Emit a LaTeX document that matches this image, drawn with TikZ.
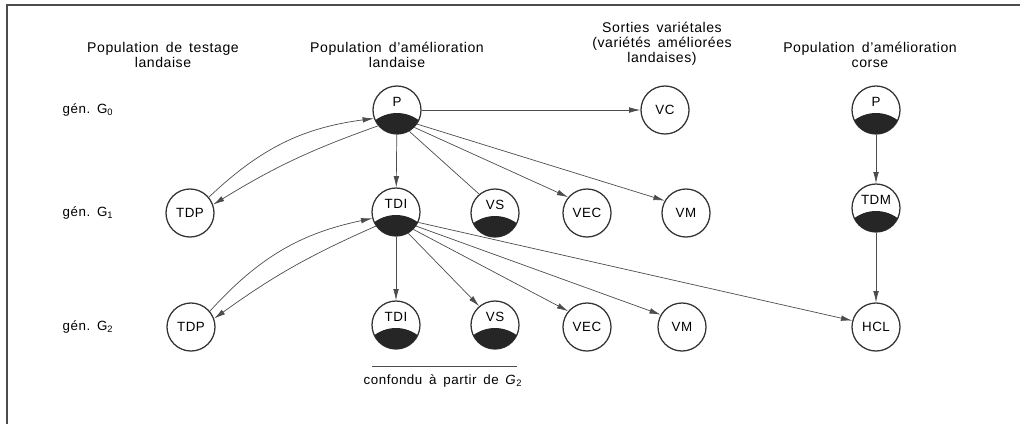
\documentclass[tikz,border=0pt]{standalone}
\usepackage{fontspec}
\setmainfont{Liberation Sans}[LetterSpace=4,WordSpace=1.6]
\usetikzlibrary{arrows.meta}

\tikzset{
  pob/.style={circle,draw=black!80,line width=0.9pt,minimum size=1.2cm,inner sep=0pt,
    font=\fontsize{9.5}{10}\selectfont},
  pobnegra/.style={pob,text height=0.25cm,text depth=0.41cm},
  flecha/.style={draw=black!70,line width=0.5pt,-{Latex[length=8pt,width=4pt]}},
  linea/.style={draw=black!70,line width=0.5pt},
  titulo/.style={align=center,font=\fontsize{10}{10.6}\selectfont},
  gen/.style={font=\fontsize{9.5}{10}\selectfont}
}

%parte negra de abajo del circulo
\newcommand{\mitadnegra}[1]{%
  \begin{scope}
    \clip (#1.center) circle (0.6cm);
    \fill[black!85,shift={(#1.center)}] (-24,12) .. controls (-10,0) and (10,0) .. (24,12)
      -- (24,30) -- (-24,30) -- cycle;
  \end{scope}}

\begin{document}
\begin{tikzpicture}[x=0.025cm,y=-0.025cm]
\useasboundingbox (0,0) rectangle (1023,424);

%marco de la pagina
\draw [black!70,line width=1pt] (7,424) -- (7,5) -- (1020,5);

%titulos de las columnas
\node[titulo] (tit1) at (163,55) {Population de testage\\landaise};
\node[titulo] (tit2) at (397,55) {Population d'amélioration\\landaise};
\node[titulo] (tit3) at (662,44) {Sorties variétales\\(variétés améliorées\\landaises)};
\node[titulo] (tit4) at (870,55) {Population d'amélioration\\corse};

%generaciones
\foreach \g/\y in {0/110,1/213,2/327}
	\node[gen] (gen\g) at (88,\y) {gén.\ G\textsubscript{\g}};

%generacion G0
\node[pobnegra] (P0) at (397,110) {P};
\node[pob] (VC) at (665,110) {VC};
\node[pobnegra] (Pc) at (876,110) {P};

%generacion G1
\node[pob] (TDP1) at (190,213) {TDP};
\node[pobnegra] (TDI1) at (396,212) {TDI};
\node[pobnegra] (VS1) at (495,213) {VS};
\node[pob] (VEC1) at (587,213) {VEC};
\node[pob] (VM1) at (686,213) {VM};
\node[pobnegra] (TDM) at (876,208) {TDM};

%generacion G2
\node[pob] (TDP2) at (191,327) {TDP};
\node[pobnegra] (TDI2) at (396,325) {TDI};
\node[pobnegra] (VS2) at (495,325) {VS};
\node[pob] (VEC2) at (587,327) {VEC};
\node[pob] (VM2) at (682,327) {VM};
\node[pob] (HCL) at (876,327) {HCL};

\foreach \n in {P0,Pc,TDI1,VS1,TDM,TDI2,VS2}
	\mitadnegra{\n};

%flechas desde P
\draw[flecha] (P0) -- (VC);
\draw[flecha] (P0) -- (TDI1);
\draw[linea] (P0.300) -- (VS1.130);
\draw[flecha] (P0.315) -- (VEC1.140);
\draw[flecha] (P0.325) -- (VM1.150);
\draw[flecha] (TDP1.40) to[bend left=18] (P0.200);
\draw[flecha] (P0.220) to[bend right=6] (TDP1.20);

%flechas desde TDI
\draw[flecha] (TDI1) -- (TDI2);
\draw[flecha] (TDI1.300) -- (VS2.130);
\draw[flecha] (TDI1.315) -- (VEC2.140);
\draw[flecha] (TDI1.325) -- (VM2.150);
\draw[flecha] (TDI1.335) -- (HCL.165);
\draw[flecha] (TDP2.40) to[bend left=18] (TDI1.195);
\draw[flecha] (TDI1.215) to[bend right=6] (TDP2.20);

%poblacion corsa
\draw[flecha] (Pc) -- (TDM);
\draw[flecha] (TDM) -- (HCL);

%nota de abajo
\draw[linea] (372,366) -- (517,366);
\node[gen] (nota) at (443,381) {confondu à partir de \textit{G}\textsubscript{2}};
\end{tikzpicture}
\end{document}
